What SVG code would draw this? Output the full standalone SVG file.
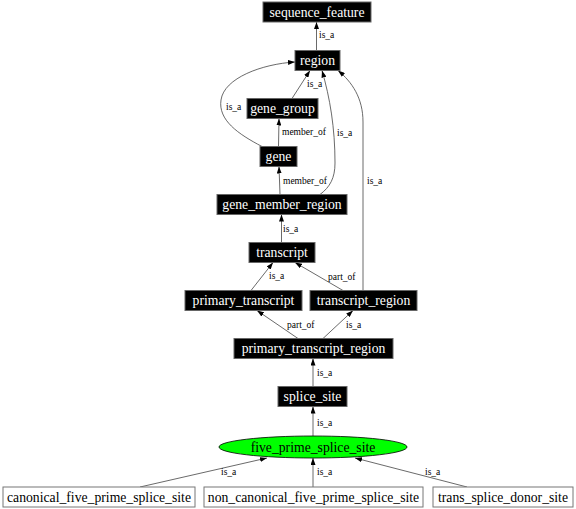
<svg xmlns="http://www.w3.org/2000/svg" width="576" height="509" viewBox="0 0 576 509">
<style>
.bn rect{fill:#000;stroke:#666;stroke-width:1}
.bn text{fill:#fff}
.wn rect{fill:#fff;stroke:#777;stroke-width:1}
.wn text{fill:#000}
text{font-family:"Liberation Serif","Times New Roman",serif}
.nt{font-size:13.7px;text-anchor:middle}
.el{font-size:9.5px;fill:#000}
.edges path{fill:none;stroke:#444;stroke-width:0.8;marker-end:url(#ah)}
</style>
<defs>
<marker id="ah" markerUnits="userSpaceOnUse" markerWidth="7" markerHeight="5" refX="7" refY="2.5" orient="auto">
<path d="M0,0 L7,2.5 L0,5 z" fill="#000"/>
</marker>
</defs>
<rect x="0" y="0" width="576" height="509" fill="#fff"/>
<g class="edges">
<path d="M316.5,50.5 L316.5,22"/>
<path d="M292,98.5 L310,70.5"/>
<path d="M262,146.5 C238,134 218,120 221,100 C224,78 262,64 295,62"/>
<path d="M278.5,146.5 L279,118.5"/>
<path d="M280,194.5 L279,166.5"/>
<path d="M320,194.5 C330,187 335,178 335,163 C335,128 330,98 322,70.5"/>
<path d="M363,290.5 L363,122 C363,98 352,82 338,70.5"/>
<path d="M281.5,242.5 L281.5,214.5"/>
<path d="M251,290.5 L273,262.5"/>
<path d="M343,290.5 L295,262.5"/>
<path d="M298,338.5 L257,310.5"/>
<path d="M323,338.5 L353,310.5"/>
<path d="M313,386.5 L313,358.5"/>
<path d="M313,436 L313,406.5"/>
<path d="M140,487 L267,458"/>
<path d="M313,487 L313,458"/>
<path d="M467,487 L355,458"/>
<text class="el" x="319" y="38">is_a</text>
<text class="el" x="307" y="87">is_a</text>
<text class="el" x="226" y="110">is_a</text>
<text class="el" x="282" y="135">member_of</text>
<text class="el" x="283" y="184">member_of</text>
<text class="el" x="337" y="136">is_a</text>
<text class="el" x="367" y="184">is_a</text>
<text class="el" x="283" y="232">is_a</text>
<text class="el" x="269" y="279">is_a</text>
<text class="el" x="328" y="280">part_of</text>
<text class="el" x="287" y="328">part_of</text>
<text class="el" x="346" y="328">is_a</text>
<text class="el" x="317" y="376">is_a</text>
<text class="el" x="317" y="426">is_a</text>
<text class="el" x="221" y="475">is_a</text>
<text class="el" x="317" y="475">is_a</text>
<text class="el" x="425" y="475">is_a</text>
</g>
<g id="sequence_feature" class="bn"><rect x="263" y="2" width="108" height="20"/><text class="nt" x="317" y="16.5">sequence_feature</text></g>
<g id="region" class="bn"><rect x="295" y="50.5" width="45" height="20"/><text class="nt" x="317.5" y="65">region</text></g>
<g id="gene_group" class="bn"><rect x="247" y="98.5" width="71" height="20"/><text class="nt" x="282.5" y="113">gene_group</text></g>
<g id="gene" class="bn"><rect x="260" y="146.5" width="37" height="20"/><text class="nt" x="278.5" y="161">gene</text></g>
<g id="gene_member_region" class="bn"><rect x="217" y="194.5" width="130" height="20"/><text class="nt" x="282" y="209">gene_member_region</text></g>
<g id="transcript" class="bn"><rect x="249" y="242.5" width="66" height="20"/><text class="nt" x="282" y="257">transcript</text></g>
<g id="primary_transcript" class="bn"><rect x="185" y="290.5" width="117" height="20"/><text class="nt" x="243.5" y="305">primary_transcript</text></g>
<g id="transcript_region" class="bn"><rect x="310" y="290.5" width="107" height="20"/><text class="nt" x="363.5" y="305">transcript_region</text></g>
<g id="primary_transcript_region" class="bn"><rect x="234" y="338.5" width="159" height="20"/><text class="nt" x="313.5" y="353">primary_transcript_region</text></g>
<g id="splice_site" class="bn"><rect x="278" y="386.5" width="69" height="20"/><text class="nt" x="312.5" y="401">splice_site</text></g>
<g id="five_prime_splice_site"><ellipse cx="313" cy="447" rx="94" ry="11" fill="#00ff00" stroke="#000" stroke-width="0.8"/><text class="nt" x="313" y="451.5" fill="#000">five_prime_splice_site</text></g>
<g id="canonical_five_prime_splice_site" class="wn"><rect x="3" y="487" width="192" height="20"/><text class="nt" x="99" y="501.5">canonical_five_prime_splice_site</text></g>
<g id="non_canonical_five_prime_splice_site" class="wn"><rect x="204" y="487" width="219" height="20"/><text class="nt" x="313.5" y="501.5">non_canonical_five_prime_splice_site</text></g>
<g id="trans_splice_donor_site" class="wn"><rect x="433" y="487" width="140" height="20"/><text class="nt" x="503" y="501.5">trans_splice_donor_site</text></g>
</svg>
